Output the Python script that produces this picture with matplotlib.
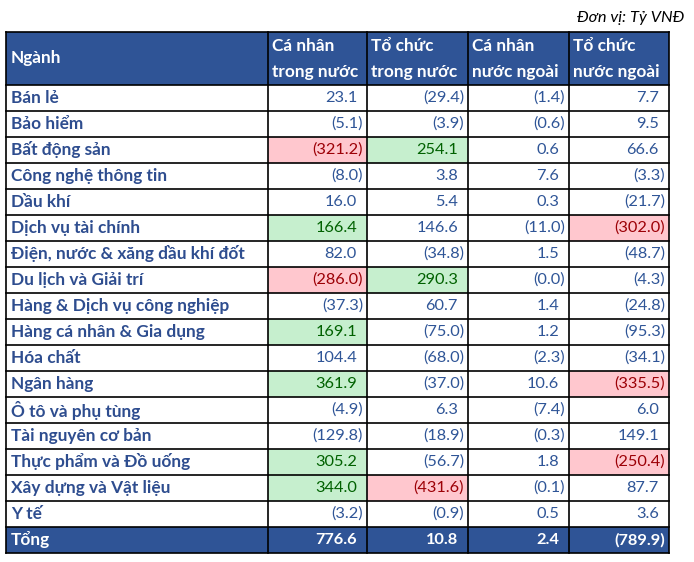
import matplotlib
matplotlib.use("Agg")
import matplotlib.pyplot as plt
from matplotlib.patches import Rectangle

plt.rcParams['font.family'] = ['Lato', 'DejaVu Sans']

sectors = ["Bán lẻ", "Bảo hiểm", "Bất động sản", "Công nghệ thông tin", "Dầu khí",
           "Dịch vụ tài chính", "Điện, nước & xăng dầu khí đốt", "Du lịch và Giải trí",
           "Hàng & Dịch vụ công nghiệp", "Hàng cá nhân & Gia dụng", "Hóa chất",
           "Ngân hàng", "Ô tô và phụ tùng", "Tài nguyên cơ bản", "Thực phẩm và Đồ uống",
           "Xây dựng và Vật liệu", "Y tế"]
headers = ["Ngành", "Cá nhân\ntrong nước", "Tổ chức\ntrong nước",
           "Cá nhân\nnước ngoài", "Tổ chức\nnước ngoài"]
ca_nhan_tn = [23.1, -5.1, -321.2, -8.0, 16.0, 166.4, 82.0, -286.0, -37.3, 169.1,
              104.4, 361.9, -4.9, -129.8, 305.2, 344.0, -3.2]
to_chuc_tn = [-29.4, -3.9, 254.1, 3.8, 5.4, 146.6, -34.8, 290.3, 60.7, -75.0,
              -68.0, -37.0, 6.3, -18.9, -56.7, -431.6, -0.9]
ca_nhan_nn = [-1.4, -0.6, 0.6, 7.6, 0.3, -11.0, 1.5, -0.0, 1.4, 1.2,
              -2.3, 10.6, -7.4, -0.3, 1.8, -0.1, 0.5]
to_chuc_nn = [7.7, 9.5, 66.6, -3.3, -21.7, -302.0, -48.7, -4.3, -24.8, -95.3,
              -34.1, -335.5, 6.0, 149.1, -250.4, 87.7, 3.6]
totals = [776.6, 10.8, 2.4, -789.9]
neg_zero = {(7, 2)}  # shown as (0.0)
# highlighted cells: (row, col) -> 'g' green / 'r' red
highlight = {(2, 0): 'r', (2, 1): 'g', (5, 0): 'g', (5, 3): 'r', (7, 0): 'r', (7, 1): 'g',
             (9, 0): 'g', (11, 0): 'g', (11, 3): 'r', (14, 0): 'g', (14, 3): 'r',
             (15, 0): 'g', (15, 1): 'r'}

HEAD = "#2F5496"
TXT = "#2F5597"
LBL = "#2E4D8F"
GBG, GTX = "#C6EFCE", "#006100"
RBG, RTX = "#FFC7CE", "#9C0006"

W, H = 694, 562
fig = plt.figure(figsize=(W / 100, H / 100), dpi=100)
ax = fig.add_axes([0, 0, 1, 1])
ax.set_xlim(0, W); ax.set_ylim(H, 0); ax.axis("off")

xs = [6, 268, 367, 468, 569, 669]
top, hbot, rh = 32, 85, 26
nrows = len(sectors) + 1
bot = hbot + nrows * rh
FS = 11.8      # numbers
FL = 12.4      # labels / header


def fmt(v, neg=False):
    if v < 0 or neg:
        return f"({abs(v):.1f})"
    return f"{v:.1f}"


def cell_text(x_right, yc, v, color, bold=False, neg=False):
    s = fmt(v, neg)
    off = 4 if s.startswith("(") else 10
    ax.text(x_right - off, yc, s, ha="right", va="center", fontsize=FS, color=color,
            fontweight="bold" if bold else "normal")


ax.text(684, 18, "Đơn vị: Tỷ VNĐ", ha="right", va="center", fontsize=FS,
        style="italic", color="black")

# header
ax.add_patch(Rectangle((xs[0], top), xs[-1] - xs[0], hbot - top, fc=HEAD, ec="none"))
ax.text(xs[0] + 5, (top + hbot) / 2, headers[0], ha="left", va="center", fontsize=FL,
        color="white", fontweight="bold")
for j, h in enumerate(headers[1:]):
    l1, l2 = h.split("\n")
    ax.text(xs[j + 1] + 4, top + 14, l1, ha="left", va="center", fontsize=FL,
            color="white", fontweight="bold")
    ax.text(xs[j + 1] + 4, top + 40, l2, ha="left", va="center", fontsize=FL,
            color="white", fontweight="bold")

cols = [ca_nhan_tn, to_chuc_tn, ca_nhan_nn, to_chuc_nn]
for i, name in enumerate(sectors):
    y0 = hbot + i * rh
    yc = y0 + rh / 2
    ax.text(xs[0] + 5, yc, name, ha="left", va="center", fontsize=FL, color=LBL,
            fontweight="bold")
    for j, col in enumerate(cols):
        kind = highlight.get((i, j))
        color = TXT
        if kind:
            ax.add_patch(Rectangle((xs[j + 1], y0), xs[j + 2] - xs[j + 1], rh,
                                   fc=GBG if kind == 'g' else RBG, ec="none"))
            color = GTX if kind == 'g' else RTX
        cell_text(xs[j + 2], yc, col[i], color, neg=(i, j) in neg_zero)

# total row
y0 = hbot + len(sectors) * rh
ax.add_patch(Rectangle((xs[0], y0), xs[-1] - xs[0], rh, fc=HEAD, ec="none"))
ax.text(xs[0] + 5, y0 + rh / 2, "Tổng", ha="left", va="center", fontsize=FL,
        color="white", fontweight="bold")
for j, v in enumerate(totals):
    cell_text(xs[j + 2], y0 + rh / 2, v, "white", bold=True)

# grid lines
lw = 1.2
for x in xs:
    ax.plot([x, x], [top, bot], color="black", lw=lw)
ax.plot([xs[0], xs[-1]], [top, top], color="black", lw=lw)
for i in range(nrows + 1):
    y = hbot + i * rh
    ax.plot([xs[0], xs[-1]], [y, y], color="black", lw=lw)

fig.savefig("out.png", dpi=100, facecolor="white")
